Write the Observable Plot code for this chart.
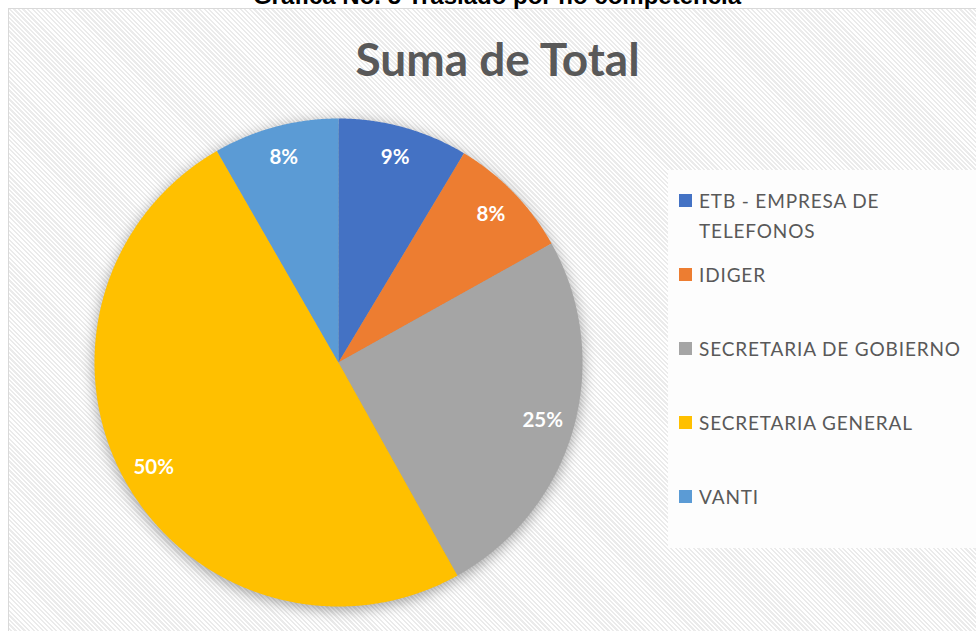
<!DOCTYPE html>
<html>
<head>
<meta charset="utf-8">
<script src="https://cdn.jsdelivr.net/npm/d3@7"></script>
<script src="https://cdn.jsdelivr.net/npm/@observablehq/plot@0.6"></script>
<style>
  html, body { margin: 0; padding: 0; background: #fff; }
  #wrap { position: relative; width: 976px; height: 631px; overflow: hidden; }
  #frame {
    position: absolute; left: 8px; top: 8px; width: 990px; height: 650px;
    border: 1px solid #d9d9d9;
    background: repeating-linear-gradient(45deg, #ffffff 0px, #ffffff 1.6px, #ebebeb 1.6px, #ebebeb 3.2px);
  }
  #maintitle {
    position: absolute; left: 0; width: 994px; top: -16px; text-align: center;
    font: bold 24px/24px "Liberation Sans", Arial, sans-serif; color: #000; white-space: nowrap;
  }
  #subtitle {
    position: absolute; left: 0; width: 995px; top: 36px; text-align: center;
    font: bold 46px/46px Lato, sans-serif; color: #595959; white-space: nowrap;
  }
  #pie { position: absolute; left: 94px; top: 118px; }
  #legend {
    position: absolute; left: 668px; top: 170px; width: 320px; height: 378px;
    background: #fdfdfd; box-sizing: border-box; padding-top: 15.6px; padding-left: 11px;
  }
  .row { display: flex; align-items: flex-start; height: 74px; }
  .sw { width: 13px; height: 13px; margin-top: 8.4px; margin-right: 7px; flex: none; }
  .lab { font: 19px/30px Lato, sans-serif; color: #595959; width: 276px; letter-spacing: 0.85px; }
</style>
</head>
<body>
<div id="wrap">
  <div id="frame"></div>
  <div id="maintitle">Gráfica No. 5 Traslado por no competencia</div>
  <div id="subtitle">Suma de Total</div>
  <div id="pie"></div>
  <div id="legend"></div>
</div>
<script>
const categories = ["ETB - EMPRESA DE TELEFONOS", "IDIGER", "SECRETARIA DE GOBIERNO", "SECRETARIA GENERAL", "VANTI"];
const values = [8.6, 8.3, 25.0, 49.8, 8.3];
const colors = ["#4472C4", "#ED7D31", "#A5A5A5", "#FFC000", "#5B9BD5"];

const total = d3.sum(values);
const slices = [];
const labels = [];
let acc = 0;
categories.forEach((cat, i) => {
  const a0 = acc / total * 2 * Math.PI;
  acc += values[i];
  const a1 = acc / total * 2 * Math.PI;
  const n = Math.max(2, Math.ceil((a1 - a0) / 0.005));
  slices.push({cat, x: 0, y: 0});
  for (let k = 0; k <= n; k++) {
    const a = a0 + (a1 - a0) * k / n;
    slices.push({cat, x: Math.sin(a), y: Math.cos(a)});
  }
  const am = (a0 + a1) / 2;
  labels.push({cat, x: 0.87 * Math.sin(am), y: 0.87 * Math.cos(am), text: Math.round(values[i] / total * 100) + "%"});
});

const chart = Plot.plot({
  width: 488, height: 488,
  margin: 0,
  x: {domain: [-1, 1], axis: null},
  y: {domain: [-1, 1], axis: null},
  color: {domain: categories, range: colors},
  style: {overflow: "visible", background: "transparent"},
  marks: [
    Plot.line(slices, {x: "x", y: "y", z: "cat", fill: "cat", stroke: "none", curve: "linear-closed"}),
    Plot.text(labels, {x: "x", y: "y", text: "text", fill: "white", fontSize: 20.5, fontWeight: "bold", fontFamily: "Lato, sans-serif"})
  ]
});
document.getElementById("pie").appendChild(chart);
d3.select(chart).select("g[aria-label=line]").style("filter", "drop-shadow(0px 3px 7px rgba(0,0,0,0.36))");

const legend = d3.select("#legend");
categories.forEach((cat, i) => {
  const row = legend.append("div").attr("class", "row");
  row.append("div").attr("class", "sw").style("background", colors[i]);
  row.append("div").attr("class", "lab").text(cat);
});
</script>
</body>
</html>
